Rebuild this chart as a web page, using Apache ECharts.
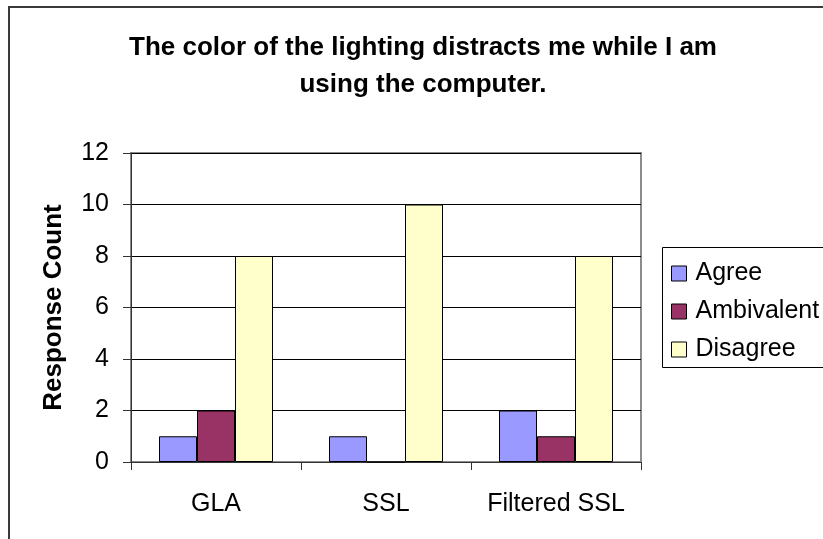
<!DOCTYPE html>
<html>
<head>
<meta charset="utf-8">
<script src="https://cdn.jsdelivr.net/npm/echarts@6/dist/echarts.min.js"></script>
<style>
html,body{margin:0;padding:0;background:#fff;}
#chart{width:823px;height:539px;}
</style>
</head>
<body>
<div id="chart"></div>
<script>
const titleText = 'The color of the lighting distracts me while I am\nusing the computer.';
const categories = ['GLA', 'SSL', 'Filtered SSL'];
const seriesNames = ['Agree', 'Ambivalent', 'Disagree'];
const agree = [1, 1, 2];
const ambivalent = [2, 0, 1];
const disagree = [8, 10, 8];
const yTicks = [0, 2, 4, 6, 8, 10, 12];
const colors = ['#9999FF', '#993366', '#FFFFCC'];

const FONT = '"Liberation Sans", Arial, sans-serif';
const chart = echarts.init(document.getElementById('chart'), null, {renderer: 'canvas'});

const seriesData = [agree, ambivalent, disagree];
const series = seriesNames.map((name, i) => ({
  name: name,
  type: 'bar',
  data: seriesData[i],
  barWidth: 38,
  barGap: '0%',
  itemStyle: {color: colors[i], borderColor: '#000', borderWidth: 1},
  emphasis: {disabled: true},
  animation: false
}));

chart.setOption({
  animation: false,
  backgroundColor: '#fff',
  title: {
    text: titleText,
    left: 418,
    top: 24,
    textAlign: 'center',
    textStyle: {fontFamily: FONT, fontSize: 26, fontWeight: 'bold', color: '#000', lineHeight: 37}
  },
  graphic: [
    {type: 'rect', z: 0, shape: {x: 9, y: 7, width: 830, height: 545},
     style: {fill: 'none', stroke: '#3a3a3a', lineWidth: 2}},
    {type: 'rect', z: 0, shape: {x: 662.5, y: 247.5, width: 200, height: 120},
     style: {fill: '#fff', stroke: '#000', lineWidth: 1}}
  ],
  legend: {
    orient: 'vertical',
    left: 671,
    top: 261,
    padding: 0,
    itemGap: 13,
    itemWidth: 15,
    itemHeight: 15,
    icon: 'rect',
    z: 10,
    data: seriesNames.map((n, i) => ({name: n, itemStyle: {color: colors[i], borderColor: '#000', borderWidth: 1}})),
    textStyle: {fontFamily: FONT, fontSize: 25, color: '#000', lineHeight: 25, padding: [0, 0, 0, 4]}
  },
  grid: {
    left: 131, right: 182, top: 153, bottom: 77,
    show: true, borderColor: '#8c8c8c', borderWidth: 2, backgroundColor: '#fff'
  },
  xAxis: {
    type: 'category',
    data: categories,
    axisLine: {show: true, lineStyle: {color: '#333', width: 1}},
    axisTick: {show: true, length: 8, inside: false, lineStyle: {color: '#333'}},
    axisLabel: {fontFamily: FONT, fontSize: 25, color: '#000', margin: 30, interval: 0},
    splitLine: {show: false}
  },
  yAxis: {
    type: 'value',
    min: yTicks[0],
    max: yTicks[yTicks.length - 1],
    interval: 2,
    name: 'Response Count',
    nameLocation: 'middle',
    nameGap: 64,
    nameRotate: 90,
    nameTextStyle: {fontFamily: FONT, fontSize: 26, fontWeight: 'bold', color: '#000'},
    axisLine: {show: true, lineStyle: {color: '#333', width: 1}},
    axisTick: {show: true, length: 8, inside: false, lineStyle: {color: '#333'}},
    axisLabel: {fontFamily: FONT, fontSize: 25, color: '#000', margin: 22},
    splitLine: {show: true, lineStyle: {color: '#000', width: 1}}
  },
  series: series
});
</script>
</body>
</html>
